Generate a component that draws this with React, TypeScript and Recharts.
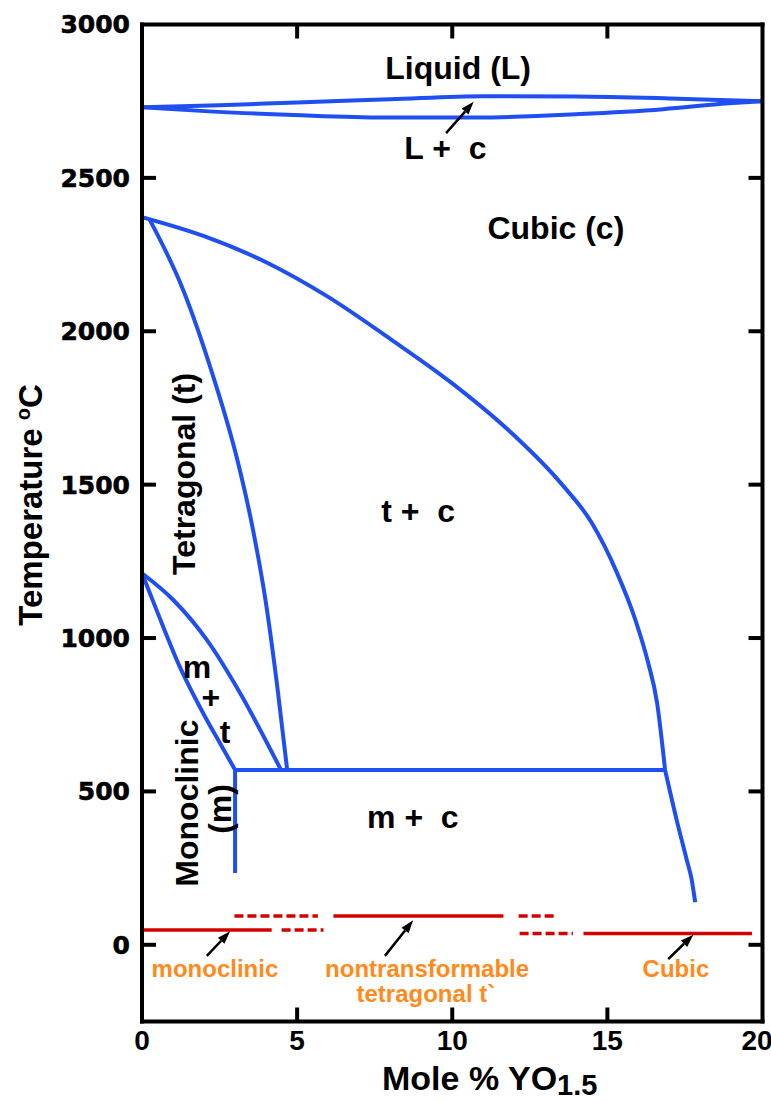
import React from 'react';
import { ComposedChart, Line, XAxis, YAxis, ReferenceLine, ReferenceDot } from 'recharts';

// Axis ticks
const xTicks = [0, 5, 10, 15, 20];
const xInnerTicks = [5, 10, 15];
const yTicks = [0, 500, 1000, 1500, 2000, 2500, 3000];
const yInnerTicks = [0, 500, 1000, 1500, 2000, 2500];

// Phase boundaries: [mole % YO1.5, temperature °C]
const liquidus = [[0, 2730], [2.5, 2737], [5, 2746], [8, 2756], [11, 2766], [14, 2765], [17, 2759], [20, 2750]];
const solidus = [[0, 2730], [2.3, 2716], [4.9, 2705], [7.8, 2697], [10.8, 2697], [14.1, 2708], [16.8, 2724], [18.9, 2743], [20, 2750]];
const tetragonalSolvus = [[0.25, 2363], [1.33, 2134], [2.26, 1864], [3.05, 1590], [3.58, 1352], [3.98, 1124], [4.35, 850], [4.68, 570]];
const cubicSolvus = [[0, 2372], [2, 2310], [4, 2225], [6, 2112], [8, 1975], [10, 1830], [12, 1660], [13.5, 1505], [14.5, 1375], [15.3, 1215], [15.9, 1060], [16.3, 925], [16.6, 790], [16.86, 570]];
const cubicSolvusLow = [[16.86, 570], [17.25, 400], [17.55, 280], [17.72, 211], [17.83, 139]];
const mtUpper = [[0, 1211], [1.01, 1124], [2.09, 994], [3.16, 821], [4.48, 570]];
const mtLower = [[0, 1211], [0.47, 1091], [1.22, 906], [2.09, 733], [2.51, 658], [3.0, 570]];
const eutectoid = [[3.0, 570], [16.86, 570]];
const monoclinicSolvus = [[3.0, 570], [3.0, 234]];

// Room-temperature phases after quenching
const redSolid = [
  [[0, 48], [4.18, 48]],
  [[6.17, 94], [11.65, 94]],
  [[14.23, 37], [19.66, 37]],
];
const redDashed = [
  [[2.98, 94], [5.67, 94]],
  [[4.5, 48], [5.85, 48]],
  [[12.14, 94], [13.35, 94]],
  [[12.17, 37], [13.89, 37]],
];

// Region names: [text, x, T, rotated]
const regionLabels: [string, number, number, boolean][] = [
  ['Liquid (L)', 10.19, 2858, false],
  ['L +  c', 9.78, 2599, false],
  ['Cubic (c)', 13.34, 2337, false],
  ['t +  c', 8.9, 1414, false],
  ['m +  c', 8.73, 417, false],
  ['m', 1.77, 906, false],
  ['+', 2.22, 808, false],
  ['t', 2.68, 694, false],
  ['Tetragonal (t)', 1.36, 1535, true],
  ['Monoclinic', 1.45, 462, true],
  ['(m)', 2.5, 443, true],
];
const phaseLabels: [string, number, number][] = [
  ['monoclinic', 2.35, -76],
  ['nontransformable', 9.19, -76],
  ['tetragonal t`', 9.15, -158],
  ['Cubic', 17.21, -76],
];
// Arrows: tail [x, T] -> head [x, T]
const arrows: [number, number, number, number][] = [
  [9.8, 2646, 10.69, 2748],
  [2.09, -36, 2.84, 44],
  [7.83, -36, 8.74, 80],
  [16.96, -47, 17.77, 33],
];

const BLUE = '#1f4ff0';
const RED = '#d40000';
const ORANGE = '#ff8a1c';
const FONT = '"Liberation Sans", Arial, sans-serif';
const TICK_LEN = 14;

const toPts = (arr: number[][]) => arr.map(([x, T]) => ({ x, T }));

const Arrow = (props: any) => {
  const { x1, y1, x2, y2 } = props;
  const ang = Math.atan2(y2 - y1, x2 - x1);
  const len = 13;
  const half = 4.5;
  const bx = x2 - len * Math.cos(ang);
  const by = y2 - len * Math.sin(ang);
  const px = -Math.sin(ang) * half;
  const py = Math.cos(ang) * half;
  return (
    <g>
      <line x1={x1} y1={y1} x2={bx} y2={by} stroke="#000" strokeWidth={2.5} />
      <polygon points={`${x2},${y2} ${bx + px},${by + py} ${bx - px},${by - py}`} fill="#000" />
    </g>
  );
};

// Inward tick marks drawn from the axis position into the plot
const InTick = (dx: number, dy: number) => (p: any) => (
  <line x1={p.x} y1={p.y} x2={p.x + dx * TICK_LEN} y2={p.y + dy * TICK_LEN} stroke="#000" strokeWidth={4} />
);

const axisLineStyle = { stroke: '#000', strokeWidth: 4, strokeLinecap: 'square' as const };

const XTitle = (props: any) => {
  const { viewBox } = props;
  const x = viewBox.x + 240;
  const y = viewBox.y + 68;
  return (
    <text x={x} y={y} fontFamily={FONT} fontWeight="bold" fontSize={34} fill="#000">
      Mole % YO
      <tspan fontSize={29} dy={5}>1.5</tspan>
    </text>
  );
};

const YTitle = (props: any) => {
  const { viewBox } = props;
  const x = viewBox.x + 42;
  const y = 505;
  return (
    <text x={x} y={y} transform={`rotate(-90, ${x}, ${y})`} textAnchor="middle" fontFamily={FONT} fontWeight="bold" fontSize={33} fill="#000">
      Temperature
      <tspan fontSize={20} dx={8} dy={-12}>o</tspan>
      <tspan dy={12}>C</tspan>
    </text>
  );
};

export default function App() {
  return (
    <div style={{ width: 771, height: 1102 }}>
      <style>{'body{margin:0;overflow:hidden}'}</style>
      <ComposedChart width={771} height={1102} margin={{ top: 24.5, right: 8.5, left: 0, bottom: 50.5 }}>
        <XAxis
          xAxisId="b"
          type="number"
          dataKey="x"
          domain={[0, 20]}
          ticks={xTicks}
          allowDataOverflow
          height={30}
          tickLine={false}
          tickSize={0}
          tickMargin={9}
          axisLine={axisLineStyle}
          tick={{ fontSize: 28, fontWeight: 'bold', fill: '#000', fontFamily: FONT }}
          label={<XTitle />}
        />
        <XAxis xAxisId="bm" type="number" dataKey="x" domain={[0, 20]} ticks={xInnerTicks} allowDataOverflow mirror orientation="bottom" tick={InTick(0, -1)} tickSize={0} tickMargin={0} tickLine={false} axisLine={false} />
        <XAxis xAxisId="tm" type="number" dataKey="x" domain={[0, 20]} ticks={xInnerTicks} allowDataOverflow mirror orientation="top" tick={InTick(0, 1)} tickSize={0} tickMargin={0} tickLine={false} axisLine={axisLineStyle} />
        <YAxis
          yAxisId="l"
          type="number"
          dataKey="T"
          domain={[-250, 3000]}
          ticks={yTicks}
          allowDataOverflow
          width={142}
          tickLine={false}
          tickSize={0}
          tickMargin={12}
          axisLine={axisLineStyle}
          tick={{ fontSize: 25, fontWeight: 'bold', fill: '#000', stroke: '#000', strokeWidth: 0.6, fontFamily: '"DejaVu Sans", sans-serif' }}
          label={<YTitle />}
        />
        <YAxis yAxisId="lm" type="number" dataKey="T" domain={[-250, 3000]} ticks={yInnerTicks} allowDataOverflow mirror orientation="left" tick={InTick(1, 0)} tickSize={0} tickMargin={0} tickLine={false} axisLine={false} />
        <YAxis yAxisId="rm" type="number" dataKey="T" domain={[-250, 3000]} ticks={yInnerTicks} allowDataOverflow mirror orientation="right" tick={InTick(-1, 0)} tickSize={0} tickMargin={0} tickLine={false} axisLine={axisLineStyle} />

        {[liquidus, solidus, tetragonalSolvus, cubicSolvus, cubicSolvusLow, mtUpper, mtLower].map((d, i) => (
          <Line key={`b${i}`} xAxisId="b" yAxisId="l" data={toPts(d)} dataKey="T" type="monotone" stroke={BLUE} strokeWidth={4} dot={false} activeDot={false} isAnimationActive={false} />
        ))}
        {[eutectoid, monoclinicSolvus].map((d, i) => (
          <Line key={`s${i}`} xAxisId="b" yAxisId="l" data={toPts(d)} dataKey="T" type="linear" stroke={BLUE} strokeWidth={4} dot={false} activeDot={false} isAnimationActive={false} />
        ))}
        {redSolid.map((d, i) => (
          <Line key={`r${i}`} xAxisId="b" yAxisId="l" data={toPts(d)} dataKey="T" type="linear" stroke={RED} strokeWidth={3.5} dot={false} activeDot={false} isAnimationActive={false} />
        ))}
        {redDashed.map((d, i) => (
          <Line key={`rd${i}`} xAxisId="b" yAxisId="l" data={toPts(d)} dataKey="T" type="linear" stroke={RED} strokeWidth={3.5} strokeDasharray="9 4" dot={false} activeDot={false} isAnimationActive={false} />
        ))}

        {arrows.map(([xa, ya, xb, yb], i) => (
          <ReferenceLine key={`a${i}`} xAxisId="b" yAxisId="l" segment={[{ x: xa, y: ya }, { x: xb, y: yb }]} shape={Arrow} />
        ))}

        {regionLabels.map(([t, x, T, rot], i) => (
          <ReferenceDot
            key={`t${i}`}
            xAxisId="b"
            yAxisId="l"
            x={x}
            y={T}
            r={0}
            shape={(p: any) => (
              <text
                x={p.cx}
                y={p.cy}
                transform={rot ? `rotate(-90, ${p.cx}, ${p.cy})` : undefined}
                textAnchor="middle"
                dominantBaseline="central"
                fontFamily={FONT}
                fontWeight="bold"
                fontSize={32}
                fill="#000"
                style={{ whiteSpace: 'pre' }}
              >
                {t}
              </text>
            )}
          />
        ))}
        {phaseLabels.map(([t, x, T], i) => (
          <ReferenceDot
            key={`o${i}`}
            xAxisId="b"
            yAxisId="l"
            x={x}
            y={T}
            r={0}
            shape={(p: any) => (
              <text x={p.cx} y={p.cy} textAnchor="middle" dominantBaseline="central" fontFamily={FONT} fontWeight="bold" fontSize={24} fill={ORANGE}>
                {t}
              </text>
            )}
          />
        ))}
      </ComposedChart>
    </div>
  );
}
